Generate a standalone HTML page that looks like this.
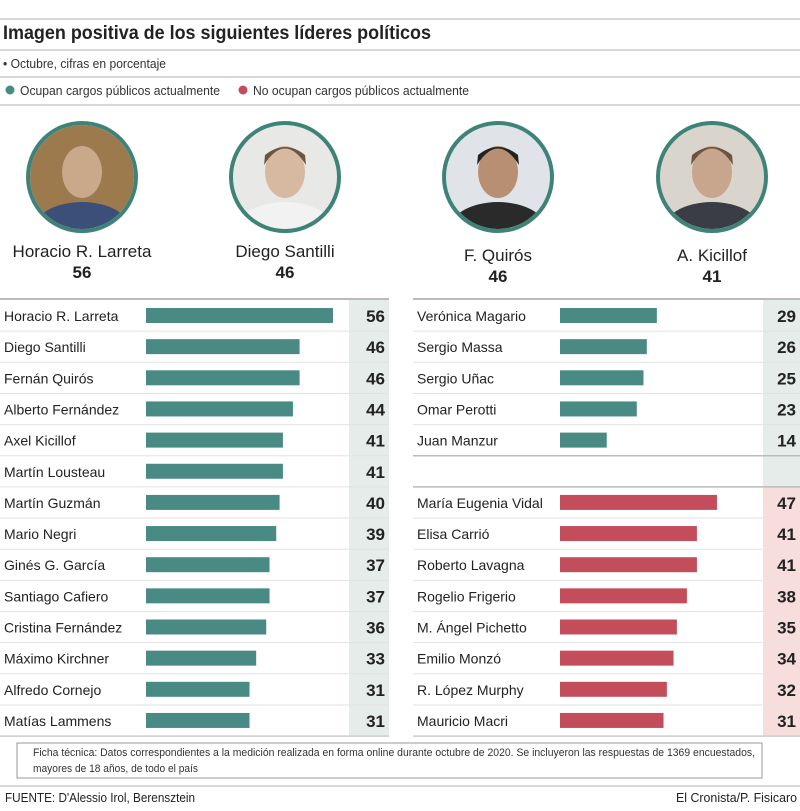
<!DOCTYPE html>
<html><head><meta charset="utf-8">
<style>
body{margin:0;background:#fff;width:800px;height:806px;overflow:hidden;font-family:"Liberation Sans",sans-serif}
svg text{font-family:"Liberation Sans",sans-serif}
</style></head>
<body>
<svg id="c" width="800" height="806" viewBox="0 0 800 806" xmlns="http://www.w3.org/2000/svg">
  <line x1="0" y1="19" x2="800" y2="19" stroke="#ccc" stroke-width="1.5"/>
  <text x="3" y="39" font-size="19" font-weight="bold" fill="#222" textLength="428" lengthAdjust="spacingAndGlyphs">Imagen positiva de los siguientes líderes políticos</text>
  <line x1="0" y1="50" x2="800" y2="50" stroke="#ccc" stroke-width="1.5"/>
  <text x="3" y="68" font-size="13" fill="#333" textLength="163" lengthAdjust="spacingAndGlyphs">• Octubre, cifras en porcentaje</text>
  <line x1="0" y1="77" x2="800" y2="77" stroke="#ccc" stroke-width="1.5"/>
  <g>
    <circle cx="10" cy="90" r="4.5" fill="#4a8a84"/>
    <text x="20" y="95" font-size="13" fill="#333" textLength="200" lengthAdjust="spacingAndGlyphs">Ocupan cargos públicos actualmente</text>
  </g>
  <g>
    <circle cx="243" cy="90" r="4.5" fill="#c44d5c"/>
    <text x="253" y="95" font-size="13" fill="#333" textLength="216" lengthAdjust="spacingAndGlyphs">No ocupan cargos públicos actualmente</text>
  </g>
  <line x1="0" y1="105" x2="800" y2="105" stroke="#ccc" stroke-width="1.5"/>
  <g id="portraits"></g>
  <g id="left"></g>
  <g id="right"></g>
  <rect x="17" y="743" width="745" height="35" fill="#fff" stroke="#999"/>
  <text x="33" y="756" font-size="11" fill="#333" textLength="722" lengthAdjust="spacingAndGlyphs">Ficha técnica: Datos correspondientes a la medición realizada en forma online durante octubre de 2020. Se incluyeron las respuestas de 1369 encuestados,</text>
  <text x="33" y="772" font-size="11" fill="#333" textLength="165" lengthAdjust="spacingAndGlyphs">mayores de 18 años, de todo el país</text>
  <line x1="0" y1="786" x2="800" y2="786" stroke="#ccc" stroke-width="1.5"/>
  <text x="5" y="802" font-size="13" fill="#222" textLength="190" lengthAdjust="spacingAndGlyphs">FUENTE: D'Alessio Irol, Berensztein</text>
  <text x="797" y="802" font-size="13" fill="#222" text-anchor="end" textLength="121" lengthAdjust="spacingAndGlyphs">El Cronista/P. Fisicaro</text>
</svg>
<script>
const leftNames=["Horacio R. Larreta","Diego Santilli","Fernán Quirós","Alberto Fernández","Axel Kicillof","Martín Lousteau","Martín Guzmán","Mario Negri","Ginés G. García","Santiago Cafiero","Cristina Fernández","Máximo Kirchner","Alfredo Cornejo","Matías Lammens"];
const leftValues=[56,46,46,44,41,41,40,39,37,37,36,33,31,31];
const rightCurrentNames=["Verónica Magario","Sergio Massa","Sergio Uñac","Omar Perotti","Juan Manzur"];
const rightCurrentValues=[29,26,25,23,14];
const rightFormerNames=["María Eugenia Vidal","Elisa Carrió","Roberto Lavagna","Rogelio Frigerio","M. Ángel Pichetto","Emilio Monzó","R. López Murphy","Mauricio Macri"];
const rightFormerValues=[47,41,41,38,35,34,32,31];
const portraitNames=["Horacio R. Larreta","Diego Santilli","F. Quirós","A. Kicillof"];
const portraitValues=[56,46,46,41];

const NS="http://www.w3.org/2000/svg";
const TEAL="#4a8a84",RED="#c44d5c";
function mk(tag,attrs,parent,txt){const e=document.createElementNS(NS,tag);for(const k in attrs)e.setAttribute(k,attrs[k]);if(txt!==undefined)e.textContent=txt;parent.appendChild(e);return e;}
const pxPerUnit=187/56;
const xScale=v=>v*pxPerUnit;
const rowTop=300,rowH=31.15;
const yRow=i=>rowTop+i*rowH;

function panel(g,x0,x1,barX,valX0,rows){
  const n=14;
  mk('rect',{x:valX0,y:rowTop,width:x1-valX0,height:n*rowH,fill:"#e6ece9"},g);
  mk('line',{x1:x0,y1:rowTop-1,x2:x1,y2:rowTop-1,stroke:"#bbb","stroke-width":2},g);
  for(let i=0;i<n;i++){
    const y=yRow(i);
    if(i>0) mk('line',{x1:x0,y1:y,x2:x1,y2:y,stroke:"#e2e2e2","stroke-width":1},g);
    const r=rows[i];
    if(!r) continue;
    if(r.red) mk('rect',{x:valX0,y:y,width:x1-valX0,height:rowH,fill:"#f7dedd"},g);
    const grp=mk('g',{},g);
    
    
    mk('text',{x:x0+4,y:y+21,"font-size":14,fill:"#222"},grp,r.name);
    const bar=mk('rect',{x:barX,y:y+8,width:xScale(r.v),height:15,fill:r.red?RED:TEAL},grp);
    
    
    mk('text',{x:x1-4,y:y+22,"font-size":17,"font-weight":"bold",fill:"#222","text-anchor":"end"},grp,String(r.v));
  }
  mk('line',{x1:x0,y1:yRow(n),x2:x1,y2:yRow(n),stroke:"#ccc","stroke-width":1.5},g);
}
const L=document.getElementById('left');
panel(L,0,389,146,349,leftNames.map((n,i)=>({name:n,v:leftValues[i]})));
const R=document.getElementById('right');
const rrows=rightCurrentNames.map((n,i)=>({name:n,v:rightCurrentValues[i]}));
rrows.push(null);
rightFormerNames.forEach((n,i)=>rrows.push({name:n,v:rightFormerValues[i],red:true}));
panel(R,413,800,560,763,rrows);
mk('line',{x1:413,y1:yRow(5),x2:800,y2:yRow(5),stroke:"#bbb","stroke-width":1.5},R);
mk('line',{x1:413,y1:yRow(6),x2:800,y2:yRow(6),stroke:"#bbb","stroke-width":1.5},R);

const P=document.getElementById('portraits');
const pcx=[82,285,498,712],pdy=[0,0,4,4];
const skin=["#c9a98a","#d6b9a0","#b88f72","#c7a68d"],bg=["#9c7a4e","#e8e8e6","#e0e4e8","#d9d4cc"],suit=["#3b4f78","#f2f2f2","#2a2a2a","#3a3d45"];
portraitNames.forEach((n,i)=>{
  const g=mk('g',{},P);
  
  
  const cx=pcx[i],cy=177;
  mk('clipPath',{id:'cp'+i},g);
  mk('circle',{cx:cx,cy:cy,r:52},g.lastChild);
  const inner=mk('g',{"clip-path":"url(#cp"+i+")"},g);
  mk('rect',{x:cx-55,y:cy-55,width:110,height:110,fill:bg[i]},inner);
  mk('ellipse',{cx:cx,cy:cy+55,rx:50,ry:30,fill:suit[i]},inner);
  mk('ellipse',{cx:cx,cy:cy-5,rx:20,ry:26,fill:skin[i]},inner);
  if(i>0) mk('path',{d:`M${cx-21} ${cy-12} Q${cx} ${cy-45} ${cx+21} ${cy-12} L${cx+20} ${cy-22} Q${cx} ${cy-38} ${cx-20} ${cy-22}Z`,fill:i==2?"#222":"#6b5540"},inner);
  mk('circle',{cx:cx,cy:cy,r:54,fill:"none",stroke:"#3f8378","stroke-width":4},g);
  mk('text',{x:cx,y:257+pdy[i],"font-size":17,fill:"#222","text-anchor":"middle"},g,n);
  mk('text',{x:cx,y:278+pdy[i],"font-size":17,"font-weight":"bold","font-family":"Liberation Serif",fill:"#222","text-anchor":"middle"},g,String(portraitValues[i]));
});
</script>
</body></html>
